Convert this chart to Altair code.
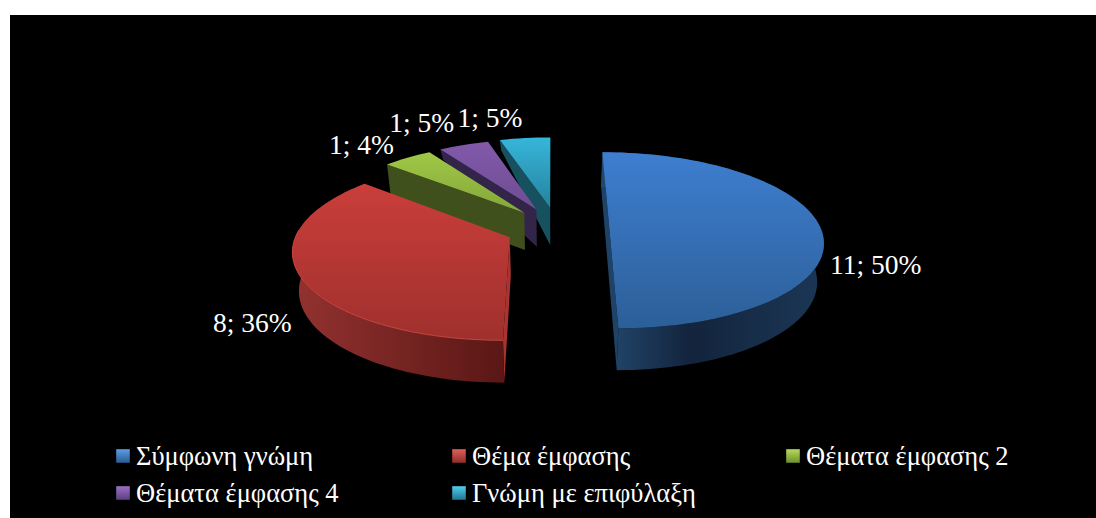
import math
import altair as alt
import pandas as pd

# Slice data
categories = ["Σύμφωνη γνώμη", "Θέμα έμφασης", "Θέματα έμφασης 2", "Θέματα έμφασης 4", "Γνώμη με επιφύλαξη"]
values = [11, 8, 1, 1, 1]
percents = [50, 36, 4, 5, 5]

# Shading per slice: top face (light, dark), side wall, cut face
top_colors = [("#3e7ed0", "#2c5f98"), ("#ca3e3b", "#9f302d"), ("#a0c846", "#84a63a"),
              ("#8259ab", "#6e4c92"), ("#36b6da", "#25829e")]
wall_stops = [[(0, "#23496f"), (0.4, "#13243c"), (1, "#1b3756")],
              [(0, "#933230"), (1, "#5a1715")]]
cut_colors = ["#1e4367", "#a8332f", "#3f501c", "#33244a", "#17505f"]
legend_colors = [("#5a9fe6", "#2b5a90"), ("#e0605a", "#8f2c2a"), ("#b4dc5a", "#6f8f30"),
                 ("#9a70c4", "#5c3f80"), ("#50cdf0", "#1f7690")]

# Projection of the pie plane onto the screen
VX, VY = 552, -405     # vanishing point
HORIZON = 635          # screen distance of the plane from the vanishing point
SCALE = 212            # pixels per pie radius
DIST = 7.31            # camera distance in pie radii
EXPLODE = 0.245
CX, CZ = 0.026, 0.02   # pie centre on the plane
DEPTH = 38

# Radius of each slice in pie radii
slice_radius = [1, 1, 0.97, 0.975, 0.985]
# Share of the full wall height shown at the outer end of each cut face
cut_taper = [1, 1, 1, 0.3, 0.3]
# Where each value label sits relative to the middle of its arc
label_shift = [(55, 38), (-48, 48), (-46, -12), (-42, -21), (-35, -19)]
LEGEND_ROWS = [457, 494]
LEGEND_COLS = [116, 452, 786]


def project(x, z, drop=False):
    s = DIST / (DIST + z)
    sx = VX + x * SCALE * s
    sy = VY + HORIZON * s
    if drop:
        sx = VX + (sx - VX) * 0.975
        sy += DEPTH + (s - 1) * 25
    return sx, sy


def on_plane(apex, deg, r=1.0):
    a = math.radians(deg)
    return apex[0] + r * math.sin(a), apex[1] + r * math.cos(a)


def gradient(stops, horizontal=False):
    return {"gradient": "linear", "x1": 0, "y1": 0, "x2": 1 if horizontal else 0, "y2": 0 if horizontal else 1,
            "stops": [{"offset": o, "color": c} for o, c in stops]}


x_scale = alt.Scale(domain=[0, 1096], range=[0, 1096], nice=False, zero=False)
y_scale = alt.Scale(domain=[0, 518], range=[0, 518], nice=False, zero=False)


def polygon(points, fill, closed=True, stroke=None, width=1):
    frame = pd.DataFrame([{"x": p[0], "y": p[1], "i": i} for i, p in enumerate(points)])
    if closed:
        mark = alt.Chart(frame).mark_line(fill=fill, interpolate="linear-closed", strokeWidth=0)
    else:
        mark = alt.Chart(frame).mark_line(stroke=stroke, strokeWidth=width)
    return mark.encode(x=alt.X("x:Q", scale=x_scale, axis=None),
                       y=alt.Y("y:Q", scale=y_scale, axis=None),
                       order="i:Q")


total = sum(values)
spans = []
start = 0.0
for v in values:
    end = start + 360 * v / total
    spans.append((start, end))
    start = end

layers = []
# Dark panel
panel = pd.DataFrame({"x": [10], "x2": [1096], "y": [15], "y2": [518]})
layers.append(alt.Chart(panel).mark_rect(color="#000000").encode(
    x=alt.X("x:Q", scale=x_scale, axis=None), x2="x2:Q",
    y=alt.Y("y:Q", scale=y_scale, axis=None), y2="y2:Q"))

# Slices are painted back to front; the large half comes last
label_rows = []
for idx in [4, 3, 2, 1, 0]:
    a0, a1 = spans[idx]
    r = slice_radius[idx]
    mid = math.radians((a0 + a1) / 2)
    apex = (CX + EXPLODE * math.sin(mid), CZ + EXPLODE * math.cos(mid))
    steps = max(6, int((a1 - a0) / 2))
    angles = [a0 + (a1 - a0) * k / steps for k in range(steps + 1)]
    rim = [on_plane(apex, a, r) for a in angles]

    # Cut face that looks towards the viewer
    edge = a1 if idx == 0 else a0
    outer = on_plane(apex, edge, r)
    o_top = project(*outer)
    o_low = project(*outer, drop=True)
    o_low = (o_low[0], o_top[1] + (o_low[1] - o_top[1]) * cut_taper[idx])
    if idx == 0:
        # The half slice shows its whole diameter
        back = on_plane(apex, a0, r)
        cut = [project(*back), o_top, o_low, project(*back, drop=True)]
    else:
        cut = [project(*apex), o_top, o_low, project(*apex, drop=True)]
    layers.append(polygon(cut, cut_colors[idx]))

    # Curved outer wall of the two large slices
    if idx < 2:
        wall = [project(*p) for p in rim] + [project(*p, drop=True) for p in reversed(rim)]
        layers.append(polygon(wall, gradient(wall_stops[idx], True)))

    top = [project(*apex)] + [project(*p) for p in rim]
    c1, c2 = top_colors[idx]
    layers.append(polygon(top, gradient([(0, c1), (1, c2)])))
    if idx == 1:
        front_rim = [project(*p) for p, a in zip(rim, angles) if a < 275]
        layers.append(polygon(front_rim, None, closed=False, stroke="#c9463f", width=1))

    mx, my = project(*on_plane(apex, (a0 + a1) / 2, r))
    dx, dy = label_shift[idx]
    label_rows.append({"x": mx + dx, "y": my + dy, "t": f"{values[idx]}; {percents[idx]}%"})

# Value labels
layers.append(alt.Chart(pd.DataFrame(label_rows)).mark_text(
    font="Liberation Serif", fontSize=27.5, color="#ffffff", align="center", baseline="middle").encode(
    x=alt.X("x:Q", scale=x_scale, axis=None), y=alt.Y("y:Q", scale=y_scale, axis=None), text="t:N"))

# Legend: three columns over two rows
legend_rows = []
for i, name in enumerate(categories):
    row, col = divmod(i, 3)
    sx, sy = LEGEND_COLS[col], LEGEND_ROWS[row]
    square = pd.DataFrame({"x": [sx + 7], "y": [sy - 1]})
    c1, c2 = legend_colors[i]
    layers.append(alt.Chart(square).mark_square(size=185, fill=gradient([(0, c1), (1, c2)]), opacity=1).encode(
        x=alt.X("x:Q", scale=x_scale, axis=None), y=alt.Y("y:Q", scale=y_scale, axis=None)))
    legend_rows.append({"x": sx + 20, "y": sy, "t": name})

layers.append(alt.Chart(pd.DataFrame(legend_rows)).mark_text(
    font="Liberation Serif", fontSize=26.5, color="#ffffff", align="left", baseline="middle").encode(
    x=alt.X("x:Q", scale=x_scale, axis=None), y=alt.Y("y:Q", scale=y_scale, axis=None), text="t:N"))

chart = alt.layer(*layers).properties(
    width=1096, height=518, padding=0, background="#ffffff",
    autosize=alt.AutoSizeParams(type="none"),
).configure_view(strokeWidth=0)

chart.save("out.html", embed_options={"renderer": "svg", "actions": False})
